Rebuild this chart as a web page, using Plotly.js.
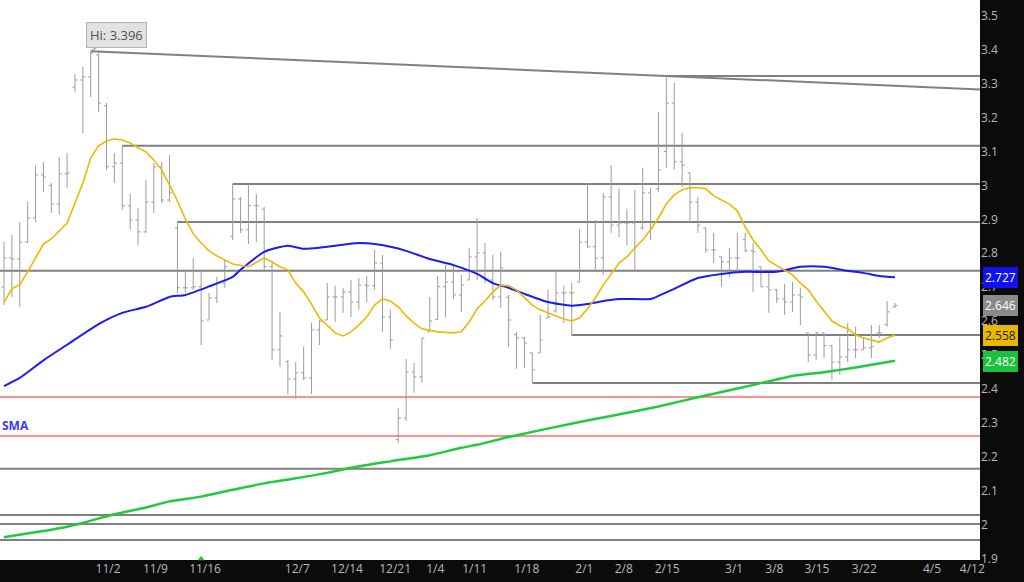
<!DOCTYPE html>
<html>
<head>
<meta charset="utf-8">
<script src="https://cdn.plot.ly/plotly-3.0.1.min.js"></script>
<style>html,body{margin:0;padding:0;background:#0b0b0b;}#chart{width:1024px;height:582px;}</style>
</head>
<body>
<div id="chart"></div>
<script>
// OHLC bars (one per trading session)
const opens = [2.700,2.786,2.783,2.833,2.904,3.031,3.000,2.945,3.034,3.290,3.311,3.320,3.385,3.235,3.055,3.066,2.940,2.898,2.863,2.951,3.055,2.957,2.875,2.698,2.698,2.701,2.603,2.668,2.712,2.850,2.960,2.869,2.940,2.930,2.760,2.515,2.480,2.429,2.447,2.432,2.574,2.603,2.671,2.671,2.686,2.656,2.706,2.704,2.771,2.612,2.250,2.314,2.450,2.435,2.568,2.605,2.701,2.715,2.677,2.721,2.789,2.801,2.721,2.671,2.670,2.560,2.550,2.506,2.506,2.609,2.630,2.683,2.683,2.715,2.833,2.819,2.786,2.966,2.883,2.889,2.889,2.875,2.978,2.990,3.100,3.243,3.070,3.037,2.951,2.875,2.810,2.789,2.774,2.786,2.840,2.807,2.760,2.701,2.692,2.665,2.656,2.677,2.565,2.500,2.565,2.527,2.479,2.494,2.515,2.515,2.521,2.565,2.590,2.642];
const highs = [2.833,2.854,2.892,2.951,3.058,3.069,3.007,3.084,3.096,3.329,3.350,3.396,3.390,3.243,3.096,3.117,2.975,2.934,3.016,3.066,3.069,3.090,2.892,2.751,2.786,2.745,2.683,2.730,2.780,3.004,2.966,3.004,2.975,2.937,2.771,2.627,2.485,2.479,2.524,2.594,2.603,2.712,2.704,2.698,2.721,2.727,2.733,2.810,2.795,2.633,2.344,2.488,2.476,2.550,2.671,2.733,2.765,2.768,2.736,2.816,2.904,2.830,2.795,2.804,2.677,2.568,2.553,2.506,2.618,2.692,2.745,2.704,2.712,2.872,3.007,2.898,2.978,3.060,2.990,2.931,2.987,3.052,2.993,3.217,3.323,3.302,3.155,3.037,2.966,2.875,2.860,2.789,2.816,2.860,2.860,2.830,2.760,2.742,2.695,2.709,2.715,2.698,2.565,2.568,2.565,2.529,2.553,2.594,2.583,2.553,2.588,2.588,2.659,2.653];
const lows = [2.647,2.671,2.642,2.830,2.892,2.981,2.919,2.913,2.993,3.276,3.155,3.261,3.217,3.046,3.007,2.928,2.869,2.824,2.860,2.919,2.948,2.951,2.683,2.683,2.692,2.529,2.603,2.653,2.698,2.839,2.860,2.827,2.833,2.751,2.485,2.465,2.385,2.370,2.426,2.385,2.529,2.603,2.597,2.624,2.612,2.633,2.656,2.692,2.568,2.518,2.240,2.305,2.388,2.417,2.568,2.603,2.612,2.665,2.627,2.721,2.721,2.712,2.662,2.639,2.524,2.459,2.462,2.417,2.506,2.609,2.624,2.594,2.559,2.715,2.816,2.745,2.736,2.860,2.848,2.824,2.751,2.869,2.839,2.981,3.052,3.046,2.996,2.892,2.860,2.801,2.771,2.701,2.730,2.748,2.804,2.686,2.701,2.624,2.653,2.618,2.627,2.588,2.479,2.485,2.491,2.426,2.441,2.479,2.491,2.515,2.491,2.550,2.583,2.639];
const closes = [2.786,2.783,2.833,2.904,3.031,3.025,2.945,3.034,3.037,3.311,3.320,3.391,3.243,3.055,3.066,2.940,2.898,2.863,2.951,3.055,2.957,2.978,2.698,2.698,2.701,2.600,2.668,2.712,2.760,2.960,2.869,2.940,2.940,2.760,2.515,2.556,2.429,2.447,2.432,2.574,2.600,2.671,2.671,2.686,2.656,2.706,2.704,2.771,2.612,2.544,2.314,2.450,2.435,2.550,2.600,2.701,2.715,2.677,2.706,2.789,2.801,2.721,2.671,2.757,2.603,2.550,2.535,2.456,2.544,2.612,2.683,2.683,2.683,2.833,2.819,2.786,2.966,2.883,2.889,2.889,2.819,2.978,2.875,3.046,3.243,3.070,3.060,2.951,2.883,2.810,2.810,2.774,2.786,2.786,2.807,2.804,2.701,2.692,2.665,2.656,2.677,2.671,2.500,2.565,2.527,2.479,2.494,2.515,2.515,2.521,2.524,2.565,2.627,2.646];

// Moving averages (bar index -> value)
const fastIdx = [0,1,2,3,5,6,8,10,11,12,13,14,15,16,17,18,19,20,21,22,23,24,25,26,27,29,31,33,34,35,36,37,38,39,40,41,42,43,44,45,46,47,48,49,50,51,52,53,55,57,58,59,60,61,62,63,64,65,66,67,68,69,70,71,72,73,74,75,76,77,78,79,80,81,82,83,84,85,86,87,88,89,90,91,92,93,94,95,96,97,98,99,100,101,102,103,104,105,106,107,108,109,110,111,112,113];
const fastMA = [2.655,2.695,2.707,2.745,2.827,2.842,2.889,3.007,3.081,3.117,3.131,3.137,3.134,3.125,3.111,3.099,3.075,3.046,3.001,2.954,2.901,2.857,2.830,2.807,2.792,2.768,2.760,2.786,2.774,2.760,2.751,2.712,2.686,2.650,2.609,2.588,2.565,2.556,2.568,2.588,2.612,2.647,2.665,2.659,2.642,2.615,2.594,2.577,2.568,2.565,2.568,2.597,2.636,2.659,2.686,2.706,2.704,2.692,2.668,2.647,2.633,2.624,2.615,2.606,2.600,2.609,2.636,2.668,2.706,2.739,2.771,2.789,2.816,2.839,2.869,2.904,2.945,2.972,2.987,2.993,2.993,2.990,2.969,2.957,2.945,2.925,2.878,2.839,2.810,2.777,2.763,2.751,2.736,2.712,2.692,2.659,2.630,2.600,2.586,2.577,2.559,2.550,2.544,2.538,2.550,2.558];
const midIdx = [0,2,5,8,12,15,18,21,23,26,29,30,33,36,38,40,42,45,47,49,51,54,57,60,62,64,66,69,72,74,76,78,82,83,85,88,91,94,98,101,104,107,109,111,113];
const midMA = [2.408,2.432,2.484,2.530,2.591,2.624,2.642,2.671,2.677,2.702,2.730,2.751,2.804,2.822,2.813,2.816,2.822,2.830,2.827,2.819,2.807,2.783,2.765,2.739,2.712,2.698,2.680,2.656,2.645,2.650,2.659,2.665,2.665,2.674,2.695,2.727,2.739,2.745,2.745,2.760,2.760,2.748,2.742,2.733,2.729];
const slowIdx = [0,8,14,18,21,25,29,33,37,41,44,49,54,58,60,64,73,77,83,88,94,100,104,108,113];
const slowMA = [1.962,1.993,2.030,2.050,2.068,2.082,2.102,2.121,2.136,2.152,2.167,2.186,2.204,2.226,2.235,2.258,2.302,2.320,2.348,2.375,2.406,2.438,2.449,2.463,2.483];

// Support / resistance levels and where each starts (null = full width)
const grayLevels = [3.323,3.117,3.004,2.892,2.748,2.559,2.417,2.164,2.028,2.001,1.954];
const grayStarts = [84,15,29,22,null,72,67,null,null,null,null];
const redLevels = [2.376,2.261];
// Trendline through two highs (bar index, price)
const trendPts = [[11,3.396],[84,3.323]];

// Axis tick labels (position in bar index)
const tickPos = [13.2,19.2,25.5,37.2,43.5,49.6,54.7,59.7,66.3,73.6,78.6,84.1,92.6,97.7,103.1,109.1,117.7,122.8];
const tickLabels = ['11/2','11/9','11/16','12/7','12/14','12/21','1/4','1/11','1/18','2/1','2/8','2/15','3/1','3/8','3/15','3/22','4/5','4/12'];

// Right-edge value tags
const tagValues = [2.727,2.646,2.558,2.482];
const tagColors = ['#1010f0','#8a8a8a','#e8b800','#18c23a'];
const tagText = ['#ffffff','#ffffff','#222222','#ffffff'];

const signalIdx = [25];

const xMin = -0.507, xMax = 123.78;
const yMin = 1.895, yMax = 3.547;

const idx = opens.map((_, i) => i);

const traces = [
  {type:'ohlc', x: idx, open: opens, high: highs, low: lows, close: closes,
   increasing:{line:{color:'#9c9c9c', width:1}}, decreasing:{line:{color:'#9c9c9c', width:1}},
   tickwidth:0.32, hoverinfo:'skip', showlegend:false},
  {type:'scatter', mode:'lines', x: slowIdx, y: slowMA, line:{color:'#1ccc3c', width:2.5, shape:'spline', smoothing:0.6}, hoverinfo:'skip', showlegend:false},
  {type:'scatter', mode:'lines', x: midIdx, y: midMA, line:{color:'#1a1aff', width:2, shape:'spline', smoothing:0.6}, hoverinfo:'skip', showlegend:false},
  {type:'scatter', mode:'lines', x: fastIdx, y: fastMA, line:{color:'#f0b800', width:1.6}, hoverinfo:'skip', showlegend:false},
  {type:'scatter', mode:'markers', x: signalIdx, y: signalIdx.map(() => yMin + 0.004), cliponaxis:false,
   marker:{symbol:'triangle-up', size:6, color:'#22cc33'}, hoverinfo:'skip', showlegend:false}
];

const shapes = [];
grayLevels.forEach((v, k) => {
  const s = grayStarts[k];
  shapes.push({type:'line', layer:'below', xref: s === null ? 'paper' : 'x', yref:'y',
    x0: s === null ? 0 : s, x1: s === null ? 1 : xMax, y0: v, y1: v,
    line:{color:'#808080', width:2}});
});
redLevels.forEach(v => {
  shapes.push({type:'line', layer:'below', xref:'paper', yref:'y', x0:0, x1:1, y0:v, y1:v,
    line:{color:'#ff6b6b', width:1.5}});
});
const slope = (trendPts[1][1] - trendPts[0][1]) / (trendPts[1][0] - trendPts[0][0]);
shapes.push({type:'line', layer:'below', xref:'x', yref:'y',
  x0: trendPts[0][0], y0: trendPts[0][1], x1: xMax, y1: trendPts[0][1] + slope * (xMax - trendPts[0][0]),
  line:{color:'#808080', width:2}});

const annotations = tagValues.map((v, k) => ({
  xref:'paper', yref:'y', x:1, y:v, xanchor:'left', yanchor:'middle', xshift:3,
  text: v.toFixed(3), showarrow:false, bgcolor: tagColors[k], bordercolor: tagColors[k],
  borderpad:1, font:{family:'Open Sans, sans-serif', size:12, color: tagText[k]}
}));
const hiVal = Math.max(...highs);
const hiIdx = highs.indexOf(hiVal);
annotations.push({xref:'x', yref:'y', x: hiIdx, y: hiVal, ax: 26, ay: -16,
  text: 'Hi: ' + hiVal.toFixed(3), showarrow:true, arrowhead:0, arrowwidth:1.5, arrowcolor:'#a8a8a8',
  bgcolor:'#e2e2e2', bordercolor:'#b4b4b4', borderwidth:1, borderpad:3,
  font:{family:'Open Sans, sans-serif', size:13, color:'#505050'}});
annotations.push({xref:'paper', yref:'y', x:0, y:2.293, xanchor:'left', yanchor:'middle', showarrow:false,
  text:'<b>SMA</b>', font:{family:'Open Sans, sans-serif', size:12, color:'#3a3aff'}});

const layout = {
  width:1024, height:582,
  margin:{l:0, r:44, t:0, b:22, pad:0},
  paper_bgcolor:'#0b0b0b', plot_bgcolor:'#ffffff',
  showlegend:false, hovermode:false,
  xaxis:{range:[xMin, xMax], tickmode:'array', tickvals: tickPos, ticktext: tickLabels,
    showgrid:false, zeroline:false, showline:false, ticks:'', rangeslider:{visible:false},
    tickfont:{family:'Open Sans, sans-serif', size:12, color:'#b8b8b8'}, automargin:false},
  yaxis:{range:[yMin, yMax], side:'right', dtick:0.1, tick0:1.9, showgrid:false, zeroline:false,
    showline:false, ticks:'', tickfont:{family:'Open Sans, sans-serif', size:12, color:'#b8b8b8'}, automargin:false},
  shapes: shapes, annotations: annotations
};

Plotly.newPlot('chart', traces, layout, {staticPlot:true, displayModeBar:false});
</script>
</body>
</html>
